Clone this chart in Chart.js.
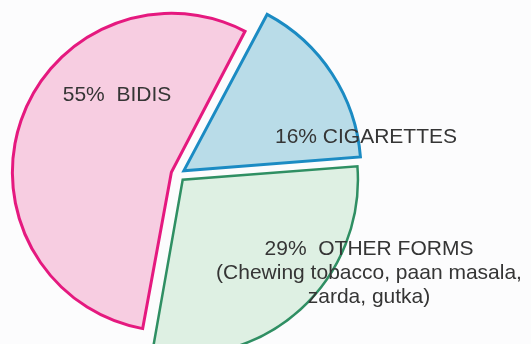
<!DOCTYPE html>
<html>
<head>
<meta charset="utf-8">
<script src="https://cdn.jsdelivr.net/npm/chart.js@4.4.1/dist/chart.umd.min.js"></script>
<style>
  html, body { margin: 0; padding: 0; background: #fcfcfd; }
  canvas { display: block; }
</style>
</head>
<body>
<canvas id="pie" width="531" height="344"></canvas>
<script>
// tobacco use by form, percent
const categories = ["BIDIS", "CIGARETTES", "OTHER FORMS"];
const shares = [55, 16, 29];
const notes = [[], [], ["(Chewing tobacco, paan masala,", "zarda, gutka)"]];

const fills = ["#f7cde1", "#b9dce8", "#def0e3"];
const edges = ["#e5197f", "#1b8bc3", "#2f8f63"];
const edgeWidths = [3, 3, 2.5];
const sliceRadius = [152, 176, 175];
const labelGap = ["  ", " ", "  "];
const labelAt = [[117, 101], [366, 143], [369, 255]];
const lineHeight = 24;

// lets each wedge keep its own radius
const wedgeSize = {
  id: "wedgeSize",
  afterDatasetsUpdate(chart) {
    chart.getDatasetMeta(0).data.forEach((arc, i) => {
      arc.outerRadius = sliceRadius[i];
    });
  },
};

const sliceText = {
  id: "sliceText",
  afterDatasetsDraw(chart) {
    const ctx = chart.ctx;
    ctx.save();
    ctx.font = "21px 'Liberation Sans', Arial, sans-serif";
    ctx.fillStyle = "#353535";
    ctx.textAlign = "center";
    ctx.textBaseline = "alphabetic";
    categories.forEach((name, i) => {
      const [x, y] = labelAt[i];
      ctx.fillText(shares[i] + "%" + labelGap[i] + name, x, y);
      notes[i].forEach((line, j) => ctx.fillText(line, x, y + lineHeight * (j + 1)));
    });
    ctx.restore();
  },
};

new Chart(document.getElementById("pie"), {
  type: "pie",
  data: {
    labels: categories,
    datasets: [{
      data: shares,
      backgroundColor: fills,
      borderColor: edges,
      borderWidth: edgeWidths,
      borderJoinStyle: "miter",
      offset: 28,
      clip: false,
    }],
  },
  options: {
    responsive: false,
    animation: false,
    rotation: 190,
    radius: 176,
    layout: { padding: { left: 0, right: 175, top: 5, bottom: 0 } },
    plugins: { legend: { display: false }, tooltip: { enabled: false } },
  },
  plugins: [wedgeSize, sliceText],
});
</script>
</body>
</html>
